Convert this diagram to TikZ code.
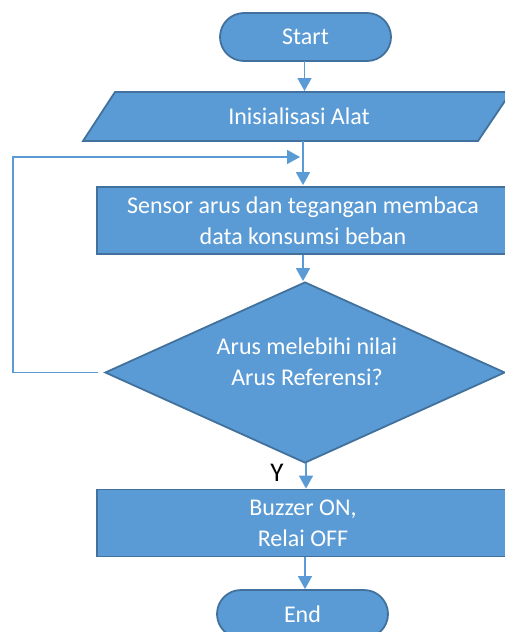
\documentclass[tikz,border=0pt]{standalone}
\usepackage{fontspec}
\setmainfont{Carlito}
\usetikzlibrary{shapes.geometric,arrows.meta}
\definecolor{boxfill}{HTML}{5B9BD5}
\definecolor{boxedge}{HTML}{41719C}
\definecolor{linec}{HTML}{5B9BD5}
\tikzset{
  base/.style={fill=boxfill, draw=boxedge, line width=1.8pt, text=white, align=center,
    font=\fontsize{24}{31}\selectfont, inner sep=0pt},
  term/.style={base, rounded corners=24pt, minimum width=171pt, minimum height=48pt},
  procbox/.style={base, rectangle, minimum width=412pt, minimum height=67pt},
  decbox/.style={base, diamond, minimum width=400pt, minimum height=181pt},
  plain/.style={text=white, align=center, font=\fontsize{24}{31}\selectfont, inner sep=0pt},
  conn/.style={draw=linec, line width=1.5pt, -{Triangle[length=13pt,width=14pt]}},
}
\begin{document}
\begin{tikzpicture}[x=1pt,y=-1pt]
\useasboundingbox (0,0) rectangle (505,632);
\clip (0,0) rectangle (505,632);
% Start
\node[term] (start) at (305.5,37) {Start};
% Init parallelogram
\fill[boxfill, draw=boxedge, line width=1.8pt] (115,92) -- (511,92) -- (478,141) -- (83,141) -- cycle;
\node[plain, minimum width=363pt, minimum height=49pt] (init) at (299,116.5) {Inisialisasi Alat};
% Sensor box
\node[procbox] (sensor) at (303,220.5) {Sensor arus dan tegangan membaca\\data konsumsi beban};
% Decision
\node[decbox] (dec) at (305,372.5) {};
\node[plain] (dectext) at (307,362) {Arus melebihi nilai\\Arus Referensi?};
% Buzzer box
\node[procbox] (buzz) at (303,523) {Buzzer ON,\\Relai OFF};
% End
\node[term] (end) at (302.5,614) {End};
% Y label
\node[font=\fontsize{27}{30}\selectfont, inner sep=0pt] (ylab) at (277,473) {Y};
% connectors
\coordinate (join) at (303,157);
\draw[conn] (304.5,61) -- (304.5,91);
\draw[conn, shorten >=1pt] (303,141) -- (sensor.north -| 303,0);
\draw[conn] (sensor.south -| 303,0) -- (dec.north -| 303,0);
\draw[conn] (306,463) -- (buzz.north -| 306,0);
\draw[conn] (buzz.south -| 305,0) -- (end.north -| 305,0);
\draw[conn] ([xshift=-6pt]dec.west) -- (13,372.5) |- ([xshift=-3pt]join);
\end{tikzpicture}
\end{document}
